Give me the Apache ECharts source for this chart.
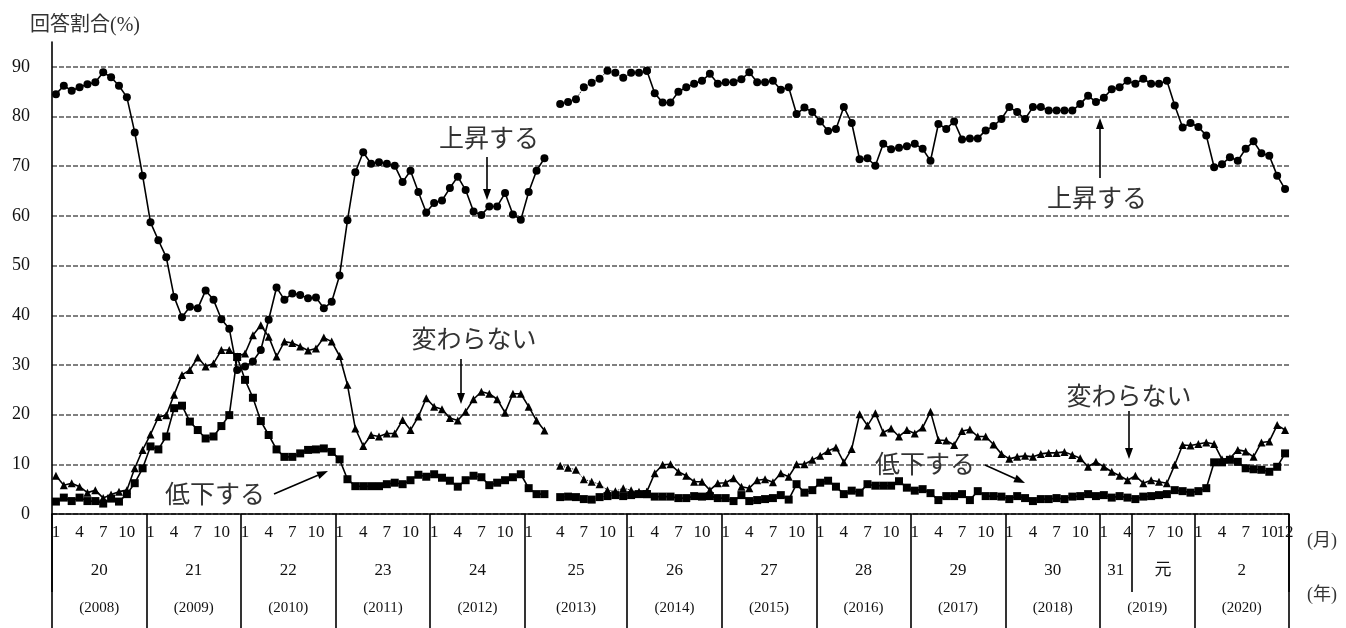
<!DOCTYPE html>
<html>

<head>
    <meta charset="utf-8">
    <script src="https://cdn.jsdelivr.net/npm/echarts@6/dist/echarts.min.js"></script>
    <style>
        html, body { margin: 0; padding: 0; background: #fff; }
    </style>
</head>

<body>
    <div id="main" style="width: 1346px;height:628px;"></div>
    <script type="text/javascript">
        // months 2008/1 .. 2020/12, one empty slot where the survey changed (between 2013/3 and 2013/4)
        var categories = [];
        for (var y = 2008; y <= 2020; y++) {
            for (var m = 1; m <= 12; m++) {
                categories.push(y + '/' + m);
                if (y === 2013 && m === 3) categories.push('');
            }
        }

        // 上昇する
        var upData = [
            84.5, 86.2, 85.2, 85.9, 86.5, 86.9, 88.9, 87.9, 86.2, 83.9, 76.8, 68.1,
            58.7, 55.1, 51.7, 43.7, 39.6, 41.7, 41.4, 45.0, 43.1, 39.2, 37.3, 29.0,
            29.7, 30.7, 33.0, 39.1, 45.6, 43.1, 44.4, 44.1, 43.4, 43.6, 41.4, 42.7,
            48.0, 59.1, 68.8, 72.8, 70.5, 70.8, 70.5, 70.1, 66.8, 69.1, 64.8, 60.7,
            62.6, 63.1, 65.6, 67.9, 65.2, 60.9, 60.2, 61.9, 61.9, 64.6, 60.3, 59.2,
            64.8, 69.1, 71.6, null, 82.5, 82.9, 83.5, 85.9, 86.8, 87.6, 89.2, 88.8, 87.8,
            88.8, 88.8, 89.2, 84.7, 82.8, 82.8, 85.0, 85.9, 86.6, 87.2, 88.6, 86.6,
            86.9, 86.9, 87.5, 88.9, 86.9, 86.9, 87.2, 85.4, 85.9, 80.5, 81.8, 80.9,
            79.0, 77.1, 77.5, 81.9, 78.7, 71.4, 71.6, 70.1, 74.5, 73.4, 73.7, 74.0,
            74.5, 73.5, 71.1, 78.5, 77.5, 79.0, 75.4, 75.6, 75.6, 77.2, 78.1, 79.5,
            81.9, 80.9, 79.5, 81.9, 81.9, 81.2, 81.2, 81.2, 81.2, 82.5, 84.2, 82.9,
            83.8, 85.5, 85.9, 87.2, 86.6, 87.6, 86.6, 86.6, 87.2, 82.2, 77.8, 78.7,
            77.9, 76.2, 69.8, 70.4, 71.8, 71.1, 73.5, 75.0, 72.6, 72.1, 68.1, 65.4
        ];
        // 変わらない
        var flatData = [
            7.7, 5.8, 6.2, 5.5, 4.3, 4.8, 3.2, 3.9, 4.5, 4.8, 9.2, 12.9,
            16.0, 19.5, 19.9, 24.0, 28.0, 29.0, 31.5, 29.7, 30.3, 33.0, 33.0, 31.7,
            32.3, 36.0, 38.0, 35.7, 31.7, 34.7, 34.4, 33.7, 32.9, 33.3, 35.5, 34.7,
            31.8, 26.0, 17.2, 13.7, 15.9, 15.6, 16.2, 16.2, 18.9, 16.9, 19.6, 23.3,
            21.6, 21.1, 19.3, 18.8, 20.6, 23.1, 24.6, 24.2, 23.1, 20.4, 24.2, 24.2,
            21.6, 18.8, 16.8, null, 9.7, 9.3, 8.9, 7.0, 6.5, 6.0, 4.8, 4.6, 5.2,
            4.8, 4.5, 4.5, 8.2, 9.9, 10.0, 8.5, 7.7, 6.5, 6.5, 4.8, 6.2,
            6.3, 7.2, 5.5, 5.2, 6.8, 7.0, 6.4, 8.2, 7.5, 10.0, 10.0, 10.9,
            11.7, 12.7, 13.4, 10.4, 13.1, 20.1, 17.8, 20.3, 16.4, 17.2, 15.6, 16.9,
            16.2, 17.4, 20.6, 14.9, 14.8, 13.9, 16.7, 17.0, 15.6, 15.6, 14.0, 12.1,
            11.1, 11.5, 11.7, 11.5, 12.1, 12.3, 12.3, 12.5, 11.9, 11.2, 9.5, 10.5,
            9.5, 8.5, 7.7, 6.8, 7.7, 6.2, 6.8, 6.5, 6.2, 9.9, 13.9, 13.8,
            14.1, 14.4, 14.1, 11.0, 11.2, 12.9, 12.6, 11.5, 14.4, 14.6, 17.9, 16.9
        ];
        // 低下する
        var downData = [
            2.5, 3.3, 2.6, 3.3, 2.6, 2.6, 2.1, 3.1, 2.5, 4.0, 6.2, 9.2,
            13.6, 13.0, 15.6, 21.3, 21.8, 18.6, 16.9, 15.2, 15.6, 17.7, 19.9, 31.6,
            27.0, 23.4, 18.7, 15.9, 13.0, 11.5, 11.5, 12.2, 12.9, 13.0, 13.2, 12.5,
            11.0, 7.0, 5.6, 5.6, 5.6, 5.6, 6.0, 6.3, 6.0, 6.8, 7.9, 7.5,
            8.0, 7.3, 6.7, 5.5, 6.8, 7.7, 7.4, 5.8, 6.3, 6.8, 7.4, 8.0,
            5.2, 4.0, 4.0, null, 3.4, 3.5, 3.4, 3.0, 2.9, 3.4, 3.6, 3.8, 3.6,
            3.8, 4.0, 4.0, 3.5, 3.5, 3.5, 3.2, 3.2, 3.6, 3.5, 3.6, 3.2,
            3.2, 2.6, 3.8, 2.6, 2.8, 3.0, 3.2, 3.8, 2.9, 6.0, 4.3, 4.8,
            6.3, 6.7, 5.5, 4.0, 4.7, 4.3, 6.0, 5.7, 5.7, 5.7, 6.6, 5.3,
            4.7, 5.0, 4.2, 2.8, 3.6, 3.6, 4.0, 2.8, 4.6, 3.6, 3.6, 3.5,
            3.0, 3.6, 3.2, 2.6, 3.0, 3.0, 3.2, 3.0, 3.5, 3.6, 4.0, 3.6,
            3.8, 3.3, 3.6, 3.3, 3.0, 3.5, 3.6, 3.8, 4.0, 4.8, 4.6, 4.3,
            4.6, 5.2, 10.4, 10.4, 10.9, 10.5, 9.2, 9.0, 8.9, 8.5, 9.5, 12.2
        ];

        var monthTicks = [1, 4, 7, 10];
        var eraRow = [
            ['20', '2008/1', '2008/12'], ['21', '2009/1', '2009/12'], ['22', '2010/1', '2010/12'],
            ['23', '2011/1', '2011/12'], ['24', '2012/1', '2012/12'], ['25', '2013/1', '2013/12'],
            ['26', '2014/1', '2014/12'], ['27', '2015/1', '2015/12'], ['28', '2016/1', '2016/12'],
            ['29', '2017/1', '2017/12'], ['30', '2018/1', '2018/12'], ['31', '2019/1', '2019/4'],
            ['元', '2019/5', '2019/12'], ['2', '2020/1', '2020/12']
        ];
        var yearRow = [2008, 2009, 2010, 2011, 2012, 2013, 2014, 2015, 2016, 2017, 2018, 2019, 2020];
        var eraSplit = '2019/5';
        var dottedFrom = '2013/4', dottedTo = '2014/3';

        var serif = '"Liberation Serif", "Noto Sans CJK JP", serif';
        var jp = '"Noto Sans CJK JP", sans-serif';

        // label positions on a 0..N value axis laid over the band axis
        function spanCenter(a, b) {
            return (categories.indexOf(a) + categories.indexOf(b) + 1) / 2;
        }
        var lastIdx = categories.length - 1;
        var monthPos = {}, eraPos = {}, yearPos = {};
        categories.forEach(function (c, i) {
            if (!c) return;
            var mm = +c.split('/')[1];
            if (monthTicks.indexOf(mm) >= 0 || i === lastIdx) monthPos[i + 0.5] = String(mm);
        });
        eraRow.forEach(function (r) { eraPos[spanCenter(r[1], r[2])] = r[0]; });
        yearRow.forEach(function (yy) { yearPos[spanCenter(yy + '/1', yy + '/12')] = '(' + yy + ')'; });

        var dFrom = categories.indexOf(dottedFrom), dTo = categories.indexOf(dottedTo);

        function makeSeries(name, arr, symbol, size) {
            var solid = arr.map(function (v, i) { return (i < dFrom || i >= dTo) ? v : null; });
            var dotted = arr.map(function (v, i) { return (i >= dFrom && i <= dTo) ? v : null; });
            var base = {
                name: name, type: 'line', symbol: symbol, symbolSize: size, showAllSymbol: true,
                itemStyle: { color: '#000' }, animation: false
            };
            return [
                Object.assign({}, base, { data: solid, lineStyle: { color: '#000', width: 1.6 } }),
                Object.assign({}, base, { data: dotted, lineStyle: { color: '#000', width: 1, type: 'dotted' } })
            ];
        }

        function arrow(x1, y1, x2, y2) {
            var a = Math.atan2(y2 - y1, x2 - x1), L = 11, W = 4;
            var bx = x2 - L * Math.cos(a), by = y2 - L * Math.sin(a);
            var px = -Math.sin(a) * W, py = Math.cos(a) * W;
            return [
                { type: 'line', z: 100, shape: { x1: x1, y1: y1, x2: bx, y2: by }, style: { stroke: '#000', lineWidth: 1.6 } },
                { type: 'polygon', z: 100, shape: { points: [[x2, y2], [bx + px, by + py], [bx - px, by - py]] }, style: { fill: '#000' } }
            ];
        }
        function note(text, x, y, size, font) {
            return {
                type: 'text', z: 100, x: x, y: y,
                style: { text: text, font: size + 'px ' + (font || jp), fill: '#333', align: 'center', verticalAlign: 'middle' }
            };
        }

        var graphics = [].concat(
            [note('上昇する', 489, 137, 25), note('上昇する', 1097, 197, 25),
             note('変わらない', 474, 338, 25), note('変わらない', 1129, 395, 25),
             note('低下する', 215, 493, 25), note('低下する', 925, 463, 25),
             note('回答割合(%)', 85, 26, 20, serif),
             note('(月)', 1322, 541, 18, serif), note('(年)', 1322, 595, 18, serif)],
            arrow(487, 157, 487, 200), arrow(1100, 178, 1100, 118),
            arrow(461, 359, 461, 404), arrow(1129, 411, 1129, 459),
            arrow(274, 494, 328, 471), arrow(985, 465, 1025, 483)
        );

        var tickLine = { color: '#000', width: 1.6 };

        function labelRow(map, margin, size) {
            return {
                type: 'value', position: 'bottom', offset: 0,
                min: 0, max: categories.length, interval: 0.5,
                axisLine: { show: false }, axisTick: { show: false }, splitLine: { show: false },
                axisLabel: {
                    margin: margin, fontFamily: serif, fontSize: size, color: '#111', hideOverlap: false,
                    formatter: function (v) { return map[v] || ''; }
                }
            };
        }

        var myChart = echarts.init(document.getElementById('main'));
        myChart.setOption({
            animation: false,
            backgroundColor: '#fff',
            grid: { left: 52, right: 57, top: 42, bottom: 114, containLabel: false, outerBoundsMode: 'none' },
            xAxis: [
                {
                    type: 'category',
                    position: 'bottom',
                    data: categories,
                    boundaryGap: true,
                    axisLine: { show: true, lineStyle: tickLine },
                    axisTick: {
                        show: true,
                        length: 120,
                        lineStyle: tickLine,
                        interval: function (i, v) { return /\/1$/.test(v); }
                    },
                    axisLabel: { show: false }
                },
                labelRow(monthPos, 10, 17),
                labelRow(eraPos, 48, 17),
                labelRow(yearPos, 87, 15),
                {
                    // short divider between 平成31 and 令和元 (first tick only anchors the spacing)
                    type: 'category', position: 'bottom', offset: 0,
                    data: categories, boundaryGap: true,
                    axisLine: { show: false }, axisLabel: { show: false },
                    axisTick: {
                        show: true,
                        length: 78,
                        lineStyle: tickLine,
                        interval: function (i, v) { return i === 0 || v === eraSplit; }
                    }
                }
            ],
            yAxis: {
                type: 'value', min: 0, max: 95, interval: 10,
                axisLine: { show: true, lineStyle: tickLine },
                axisTick: { show: false },
                axisLabel: {
                    margin: 22, fontFamily: serif, fontSize: 18, color: '#111', showMaxLabel: false,
                    formatter: function (v) { return v % 10 === 0 ? v : ''; }
                },
                splitLine: { show: true, showMaxLine: false, lineStyle: { color: '#808080', width: 2, type: [5, 2] } }
            },
            series: [].concat(
                makeSeries('上昇する', upData, 'circle', 8),
                makeSeries('変わらない', flatData, 'triangle', 8),
                makeSeries('低下する', downData, 'rect', 8)
            ),
            graphic: graphics
        });
    </script>
</body>

</html>
